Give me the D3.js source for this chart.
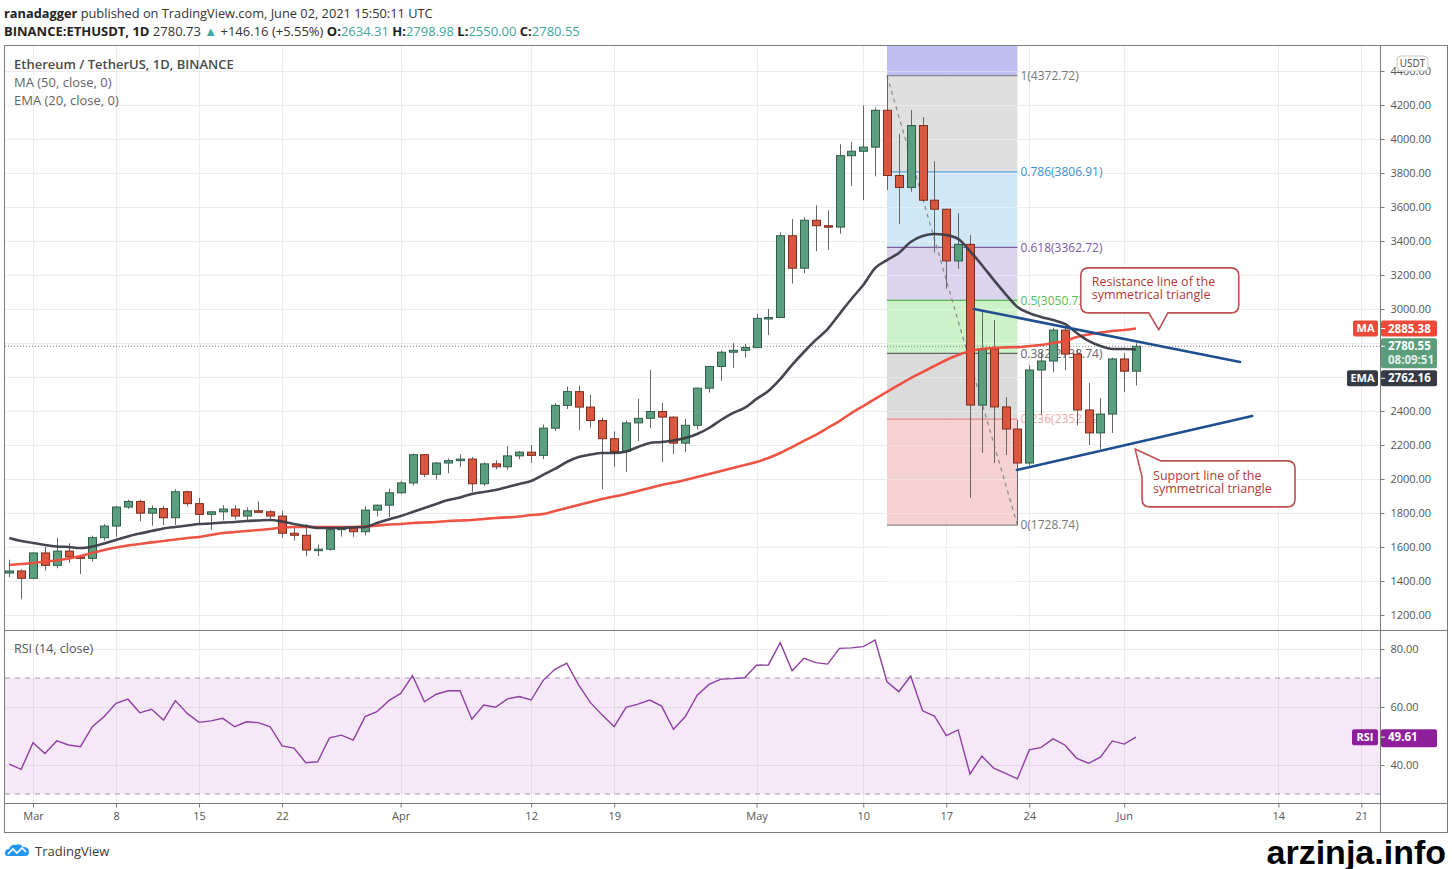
<!DOCTYPE html>
<html>
<head>
<meta charset="utf-8">
<script src="https://cdn.jsdelivr.net/npm/d3@7"></script>
<style>
  body { margin: 0; background: #fff; }
  svg { display: block; font-family: "Open Sans", "Noto Sans", sans-serif; }
</style>
</head>
<body>
<svg id="chart"></svg>
<script>
// ETH/USDT daily, Feb 27 - Jun 2 2021

const firstDay = Date.UTC(2021, 1, 27);

const openP = [1447,1459,1416,1565,1492,1576,1542,1533,1655,1723,
  1835,1868,1799,1826,1772,1925,1855,1792,1807,1823,
  1782,1813,1807,1782,1681,1669,1582,1587,1702,1714,
  1690,1817,1846,1919,1977,2143,2028,2094,2108,2117,
  1972,2089,2072,2136,2158,2139,2299,2433,2514,2423,
  2344,2237,2162,2330,2357,2397,2364,2211,2316,2534,
  2662,2746,2757,2773,2945,2950,3431,3240,3522,3490,
  3482,3902,3928,3952,4169,3785,3715,4079,3640,3587,
  3283,3380,2435,2765,2424,2294,2094,2641,2694,2876,
  2735,2406,2271,2382,2706,2634.31];

const highP = [1525,1468,1570,1600,1654,1622,1548,1667,1734,1842,
  1878,1878,1845,1840,1940,1932,1888,1810,1846,1845,
  1834,1868,1818,1812,1723,1733,1614,1707,1722,1720,
  1840,1850,1943,1987,2150,2144,2100,2120,2145,2130,
  2098,2110,2194,2165,2200,2320,2447,2544,2549,2497,
  2360,2280,2345,2471,2642,2449,2369,2353,2539,2664,
  2757,2800,2795,2972,3000,3450,3530,3540,3610,3580,
  3970,3984,4197,4186,4372.72,4030,4170,4129,3870,3587,
  3563,3435,2994,2935,2482,2347,2670,2750,2890,2890,
  2762,2565,2476,2714,2741,2798.98];

const lowP = [1424,1293,1410,1462,1475,1506,1440,1515,1637,1660,
  1824,1752,1725,1730,1730,1838,1733,1700,1757,1762,
  1755,1805,1765,1653,1638,1545,1547,1578,1661,1660,
  1668,1780,1777,1911,1962,2012,1997,2034,2071,1924,
  1960,2057,2054,2116,2094,2117,2281,2411,2288,2303,
  1941,2071,2041,2224,2300,2100,2147,2159,2292,2508,
  2578,2652,2713,2772,2847,2950,3150,3210,3340,3347,
  3443,3723,3641,3780,3700,3500,3690,3630,3333,3120,
  3236,1888,2153,2094,2141,1728.74,2080,2376,2629,2640,
  2316,2200,2176,2271,2512,2550];

const closeP = [1459,1416,1565,1492,1576,1542,1533,1655,1723,1835,
  1868,1799,1826,1772,1925,1855,1792,1807,1823,1782,
  1813,1807,1782,1681,1669,1582,1587,1702,1714,1690,
  1817,1846,1919,1977,2143,2028,2094,2108,2117,1972,
  2089,2072,2136,2158,2139,2299,2433,2514,2423,2344,
  2237,2162,2330,2357,2397,2364,2211,2316,2534,2662,
  2746,2757,2773,2945,2950,3431,3240,3522,3490,3482,
  3902,3928,3952,4169,3785,3715,4079,3640,3587,3283,
  3380,2435,2765,2424,2294,2094,2641,2694,2876,2735,
  2406,2271,2382,2706,2634.31,2780.55];

// MA(50) and EMA(20) as drawn on the chart
const ma50 = [1494,1500,1506,1515,1521,1532,1547,1565,1582,1597,
  1609,1618,1627,1635,1644,1653,1659,1671,1682,1688,
  1694,1700,1706,1715,1718,1718,1718,1718,1718,1718,
  1721,1726,1732,1735,1741,1744,1747,1753,1756,1759,
  1765,1771,1774,1779,1788,1794,1812,1829,1847,1865,
  1882,1897,1912,1929,1947,1965,1979,1994,2012,2029,
  2047,2065,2082,2100,2124,2153,2188,2224,2259,2300,
  2341,2388,2429,2471,2512,2553,2594,2629,2665,2700,
  2729,2753,2765,2771,2774,2776,2782,2788,2800,2812,
  2835,2850,2862,2871,2876,2885.38];

const ema20 = [1653,1635,1624,1612,1603,1600,1594,1603,1621,1641,
  1662,1679,1694,1709,1718,1726,1735,1738,1744,1747,
  1753,1756,1759,1750,1735,1724,1712,1712,1712,1715,
  1718,1741,1762,1782,1806,1829,1853,1876,1891,1912,
  1924,1935,1953,1971,1988,2024,2059,2100,2129,2144,
  2153,2153,2162,2188,2212,2218,2227,2241,2265,2300,
  2347,2388,2418,2471,2518,2588,2671,2747,2818,2882,
  2971,3059,3141,3241,3288,3329,3394,3429,3441,3435,
  3412,3341,3259,3171,3088,3012,2976,2953,2935,2912,
  2859,2812,2782,2765,2765,2762.16];

// RSI(14)
const rsi14 = [40.3,38.5,47.7,44.0,48.3,46.9,46.3,53.2,56.7,61.3,
  62.7,58.0,59.2,55.5,62.2,57.8,54.7,55.2,56.1,53.2,
  54.9,54.6,53.2,46.6,45.8,40.8,41.1,49.4,50.3,48.6,
  56.7,58.4,62.2,64.7,70.8,61.8,64.4,65.6,65.6,55.8,
  60.7,59.9,62.8,63.6,62.4,69.1,73.0,75.1,67.6,61.5,
  57.2,53.2,59.9,61.0,62.4,60.3,52.3,56.7,64.1,67.8,
  69.6,69.8,70.1,74.4,74.5,82.2,72.5,76.8,75.3,74.8,
  80.2,80.4,80.8,83.1,68.7,65.3,70.7,58.7,56.9,50.1,
  52.1,36.9,43.1,38.9,37.1,35.2,45.2,46.1,49.0,46.9,
  42.3,40.6,42.7,48.3,47.2,49.61];

// time axis ticks
const tickDays = ["2021-03-01","2021-03-08","2021-03-15","2021-03-22","2021-04-01","2021-04-12","2021-04-19",
  "2021-05-01","2021-05-10","2021-05-17","2021-05-24","2021-06-01","2021-06-14","2021-06-21"];
const tickLabels = ["Mar","8","15","22","Apr","12","19","May","10","17","24","Jun","14","21"];

// fib retracement (May 12 high -> May 23 low)
const fibLevels = [1, 0.786, 0.618, 0.5, 0.382, 0.236, 0];
const fibPrices = [4372.72, 3806.91, 3362.72, 3050.73, 2738.74, 2352.72, 1728.74];
const fibStart = "2021-05-12";
const fibEnd = "2021-05-23";

// symmetrical triangle drawings
const resistanceLine = [["2021-05-19T08:00", 3000], ["2021-06-10T18:30", 2688]];
const supportLine = [["2021-05-22T23:00", 2053], ["2021-06-11T19:00", 2371]];

const W = 1452, H = 869;
const left = 5, paneRight = 1380, frameRight = 1447;
const priceTop = 46, priceBottom = 630, rsiBottom = 803, axisBottom = 832;

const svg = d3.select('#chart').attr('width', W).attr('height', H);

const parse = s => new Date(s.length > 10 ? s + ':00Z' : s + 'T00:00:00Z');
const dates = closeP.map((_, i) => new Date(firstDay + i * 864e5));
const candles = dates.map((d, i) => ({ date: d, o: openP[i], h: highP[i], l: lowP[i], c: closeP[i] }));

const x = d3.scaleUtc()
  .domain([new Date(Date.UTC(2021, 1, 26, 15, 18)), new Date(Date.UTC(2021, 5, 22, 13, 41))])
  .range([left, paneRight]);
const y = d3.scaleLinear().domain([1200, 4400]).range([615, 71]);
const ry = d3.scaleLinear().domain([40, 80]).range([765, 649]);

const greenFill = '#5b9f7f', greenLine = '#2f5d49';
const redFill = '#d9573e', redLine = '#7d2c1e';
const teal = '#3fa69c';

// clip paths
const defs = svg.append('defs');
defs.append('clipPath').attr('id', 'pclip').append('rect')
  .attr('x', left).attr('y', priceTop).attr('width', paneRight - left).attr('height', priceBottom - priceTop);
defs.append('clipPath').attr('id', 'rclip').append('rect')
  .attr('x', left).attr('y', priceBottom).attr('width', paneRight - left).attr('height', rsiBottom - priceBottom);

// header
const head1 = svg.append('text').attr('x', 4).attr('y', 18).style('font-size', '12.8px').attr('fill', '#333');
head1.append('tspan').attr('font-weight', 700).attr('fill', '#222').text('ranadagger');
head1.append('tspan').text(' published on TradingView.com, June 02, 2021 15:50:11 UTC');

const head2 = svg.append('text').attr('x', 4).attr('y', 36).style('font-size', '13px').attr('fill', '#333');
head2.append('tspan').attr('font-weight', 700).attr('fill', '#222').text('BINANCE:ETHUSDT, 1D');
head2.append('tspan').text('  2780.73 ');
head2.append('tspan').attr('fill', teal).text('▲');
head2.append('tspan').text(' +146.16 (+5.55%) ');
[['O:', '2634.31'], [' H:', '2798.98'], [' L:', '2550.00'], [' C:', '2780.55']].forEach(([k, v]) => {
  head2.append('tspan').attr('font-weight', 700).attr('fill', '#222').text(k);
  head2.append('tspan').attr('fill', teal).text(v);
});

// grid
const grid = svg.append('g').attr('stroke', '#ececec').attr('stroke-width', 1);
const priceTicks = d3.range(1200, 4401, 200);
grid.selectAll('line.h').data(priceTicks).enter().append('line')
  .attr('x1', left).attr('x2', paneRight)
  .attr('y1', d => Math.round(y(d)) + 0.5).attr('y2', d => Math.round(y(d)) + 0.5);
grid.selectAll('line.r').data([40, 60, 80]).enter().append('line')
  .attr('x1', left).attr('x2', paneRight)
  .attr('y1', d => Math.round(ry(d)) + 0.5).attr('y2', d => Math.round(ry(d)) + 0.5);
grid.selectAll('line.v').data(tickDays).enter().append('line')
  .attr('x1', d => Math.round(x(parse(d))) + 0.5).attr('x2', d => Math.round(x(parse(d))) + 0.5)
  .attr('y1', priceTop).attr('y2', rsiBottom);

// fib retracement
const price = svg.append('g').attr('clip-path', 'url(#pclip)');
const fx0 = x(parse(fibStart)), fx1 = x(parse(fibEnd));
const fibFills = ['#dcdcdc', '#cbe4f5', '#d8cfea', '#c8efc2', '#d7d7d7', '#f5cccc'];
const fibLineColors = ['#8a8a8a', '#5aa3d6', '#7e5fa3', '#5ab55a', '#666666', '#e58a8a', '#8a8a8a'];
const fibTextColors = ['#777777', '#3d8fd0', '#7b5aa0', '#55c055', '#666666', '#f0a8a8', '#777777'];

price.append('rect')
  .attr('x', fx0).attr('width', fx1 - fx0)
  .attr('y', priceTop).attr('height', y(fibPrices[0]) - priceTop)
  .attr('fill', '#bfc0f1');
price.selectAll('rect.fib').data(fibFills).enter().append('rect')
  .attr('x', fx0).attr('width', fx1 - fx0)
  .attr('y', (d, i) => y(fibPrices[i]))
  .attr('height', (d, i) => y(fibPrices[i + 1]) - y(fibPrices[i]))
  .attr('fill', d => d).attr('opacity', 0.9);
// faint grid through the box
price.selectAll('line.fg').data(priceTicks).enter().append('line')
  .attr('x1', fx0).attr('x2', fx1)
  .attr('y1', d => Math.round(y(d)) + 0.5).attr('y2', d => Math.round(y(d)) + 0.5)
  .attr('stroke', '#ffffff').attr('stroke-opacity', 0.35);
price.selectAll('line.fib').data(fibPrices).enter().append('line')
  .attr('x1', fx0).attr('x2', fx1)
  .attr('y1', d => y(d)).attr('y2', d => y(d))
  .attr('stroke', (d, i) => fibLineColors[i]).attr('stroke-width', 1.2);
price.selectAll('text.fib').data(fibPrices).enter().append('text')
  .attr('x', fx1 + 3).attr('y', d => y(d)).attr('dy', '0.35em')
  .attr('fill', (d, i) => fibTextColors[i])
  .style('font-size', '12px')
  .text((d, i) => `${fibLevels[i]}(${d.toFixed(2)})`);
price.append('line')
  .attr('x1', fx0).attr('y1', y(fibPrices[0]))
  .attr('x2', fx1).attr('y2', y(fibPrices[6]))
  .attr('stroke', '#8a8a8a').attr('stroke-width', 1.2).attr('stroke-dasharray', '4,4');

// last price dotted line
price.append('line')
  .attr('x1', left).attr('x2', paneRight)
  .attr('y1', y(closeP[closeP.length - 1])).attr('y2', y(closeP[closeP.length - 1]))
  .attr('stroke', '#888').attr('stroke-dasharray', '1,2');

// candles
const bodyW = 8;
const cg = price.append('g').selectAll('g').data(candles).enter().append('g');
cg.append('line')
  .attr('x1', d => Math.round(x(d.date)) + 0.5).attr('x2', d => Math.round(x(d.date)) + 0.5)
  .attr('y1', d => y(d.h)).attr('y2', d => y(d.l))
  .attr('stroke', '#666').attr('stroke-width', 1);
cg.append('rect')
  .attr('x', d => Math.round(x(d.date)) - bodyW / 2 + 0.5)
  .attr('width', bodyW)
  .attr('y', d => y(Math.max(d.o, d.c)))
  .attr('height', d => Math.max(1.5, Math.abs(y(d.o) - y(d.c))))
  .attr('fill', d => d.c >= d.o ? greenFill : redFill)
  .attr('stroke', d => d.c >= d.o ? greenLine : redLine)
  .attr('stroke-width', 1);

// moving averages
const line = d3.line().x((d, i) => x(dates[i])).y(d => y(d)).curve(d3.curveMonotoneX);
price.append('path').datum(ma50).attr('d', line)
  .attr('fill', 'none').attr('stroke', '#ee4a3a').attr('stroke-width', 2.6).attr('stroke-opacity', 0.95);
price.append('path').datum(ema20).attr('d', line)
  .attr('fill', 'none').attr('stroke', '#3b3d47').attr('stroke-width', 2.6).attr('stroke-opacity', 0.95);

// triangle lines
[resistanceLine, supportLine].forEach(pts => {
  price.append('line')
    .attr('x1', x(parse(pts[0][0]))).attr('y1', y(pts[0][1]))
    .attr('x2', x(parse(pts[1][0]))).attr('y2', y(pts[1][1]))
    .attr('stroke', '#1f4f8e').attr('stroke-width', 2.6).attr('stroke-linecap', 'round');
});

// callouts
function callout(pathD, lines, tx, ty) {
  const g = svg.append('g');
  g.append('path').attr('d', pathD)
    .attr('fill', '#fff').attr('stroke', '#bd5050').attr('stroke-width', 1.6).attr('stroke-linejoin', 'round');
  lines.forEach((t, i) => g.append('text')
    .attr('x', tx).attr('y', ty + i * 13.5)
    .attr('fill', '#b03a3a').style('font-size', '12.5px').text(t));
}
// resistance callout: pointer at the bottom
{
  const tx = x(parse('2021-06-03T22:00')), ty = y(2877);
  const x0 = tx - 78, x1 = tx + 80, y0 = ty - 62, y1 = ty - 17, r = 8;
  const p = `M${x0 + r},${y0} H${x1 - r} Q${x1},${y0} ${x1},${y0 + r} V${y1 - r} Q${x1},${y1} ${x1 - r},${y1}
    H${tx + 9} L${tx},${ty} L${tx - 10},${y1} H${x0 + r} Q${x0},${y1} ${x0},${y1 - r} V${y0 + r} Q${x0},${y0} ${x0 + r},${y0} Z`;
  callout(p, ['Resistance line of the', 'symmetrical triangle'], x0 + 11, y0 + 18);
}
// support callout: pointer at the top-left corner
{
  const tx = x(parse('2021-06-01T22:00')), ty = y(2177);
  const x0 = tx + 7, x1 = tx + 160, y0 = ty + 12, y1 = ty + 58, r = 8;
  const p = `M${tx + 26},${y0} H${x1 - r} Q${x1},${y0} ${x1},${y0 + r} V${y1 - r} Q${x1},${y1} ${x1 - r},${y1}
    H${x0 + r} Q${x0},${y1} ${x0},${y1 - r} V${y0 + 16} L${tx},${ty} Z`;
  callout(p, ['Support line of the', 'symmetrical triangle'], x0 + 11, y0 + 19);
}

// legends
const legend = svg.append('g').style('font-size', '13px');
legend.append('text').attr('x', 14).attr('y', 69).attr('fill', '#4a4a4a').attr('font-weight', 600)
  .text('Ethereum / TetherUS, 1D, BINANCE');
legend.append('text').attr('x', 14).attr('y', 87).attr('fill', '#666').text('MA (50, close, 0)');
legend.append('text').attr('x', 14).attr('y', 105).attr('fill', '#666').text('EMA (20, close, 0)');

// RSI pane
const rsiG = svg.append('g').attr('clip-path', 'url(#rclip)');
rsiG.append('rect')
  .attr('x', left).attr('width', paneRight - left)
  .attr('y', ry(70)).attr('height', ry(30) - ry(70))
  .attr('fill', '#9c27b0').attr('fill-opacity', 0.1);
rsiG.selectAll('line.band').data([70, 30]).enter().append('line')
  .attr('x1', left).attr('x2', paneRight)
  .attr('y1', d => ry(d)).attr('y2', d => ry(d))
  .attr('stroke', '#a39cb0').attr('stroke-dasharray', '5,5');
const rsiLine = d3.line().x((d, i) => x(dates[i])).y(d => ry(d));
rsiG.append('path').datum(rsi14).attr('d', rsiLine)
  .attr('fill', 'none').attr('stroke', '#8e3fa0').attr('stroke-width', 1.4);
svg.append('text').attr('x', 14).attr('y', 653).attr('fill', '#555').style('font-size', '12.5px')
  .text('RSI (14, close)');

// frame
const frame = svg.append('g').attr('stroke', '#7a7a7a').attr('fill', 'none');
frame.append('rect').attr('x', left - 0.5).attr('y', priceTop - 0.5)
  .attr('width', frameRight - left + 1).attr('height', axisBottom - priceTop + 1);
frame.append('line').attr('x1', left).attr('x2', frameRight).attr('y1', priceBottom + 0.5).attr('y2', priceBottom + 0.5);
frame.append('line').attr('x1', left).attr('x2', frameRight).attr('y1', rsiBottom + 0.5).attr('y2', rsiBottom + 0.5);
frame.append('line').attr('x1', paneRight + 0.5).attr('x2', paneRight + 0.5).attr('y1', priceTop).attr('y2', axisBottom);

// axes
function styleAxis(g) {
  g.select('.domain').remove();
  g.selectAll('.tick line').attr('stroke', '#777');
  g.selectAll('.tick text').attr('fill', '#555').style('font-size', '11px')
    .style('font-family', '"Open Sans", sans-serif');
}
svg.append('g').attr('transform', `translate(${paneRight + 0.5},0)`)
  .call(d3.axisRight(y).tickValues(priceTicks).tickFormat(d3.format('.2f')).tickSize(4).tickPadding(6))
  .call(styleAxis);
svg.append('g').attr('transform', `translate(${paneRight + 0.5},0)`)
  .call(d3.axisRight(ry).tickValues([40, 60, 80]).tickFormat(d3.format('.2f')).tickSize(4).tickPadding(6))
  .call(styleAxis);
svg.append('g').attr('transform', `translate(0,${rsiBottom + 0.5})`)
  .call(d3.axisBottom(x).tickValues(tickDays.map(parse)).tickFormat((d, i) => tickLabels[i]).tickSize(4).tickPadding(5))
  .call(styleAxis);

// currency box
svg.append('rect').attr('x', 1397).attr('y', 56).attr('width', 31).attr('height', 15).attr('rx', 4)
  .attr('fill', '#fff').attr('stroke', '#c8c8c8');
svg.append('text').attr('x', 1412.5).attr('y', 67).attr('text-anchor', 'middle')
  .attr('fill', '#444').style('font-size', '10px').text('USDT');

// price tags on the axis
function tag(cy, h, fill, name, nameW, values) {
  const g = svg.append('g');
  if (name) {
    g.append('rect').attr('x', paneRight - 2 - nameW).attr('y', cy - 8).attr('width', nameW).attr('height', 16)
      .attr('rx', 2).attr('fill', fill);
    g.append('text').attr('x', paneRight - 2 - nameW / 2).attr('y', cy).attr('dy', '0.35em')
      .attr('text-anchor', 'middle').attr('fill', '#fff').attr('font-weight', 700)
      .style('font-size', '11px').text(name);
  }
  g.append('rect').attr('x', paneRight + 1).attr('y', cy - 8).attr('width', 56).attr('height', h)
    .attr('rx', 2).attr('fill', fill);
  g.append('line').attr('x1', paneRight + 1).attr('x2', paneRight + 5).attr('y1', cy).attr('y2', cy)
    .attr('stroke', '#fff');
  values.forEach((v, i) => g.append('text')
    .attr('x', paneRight + 8).attr('y', cy + i * 14).attr('dy', '0.35em')
    .attr('fill', '#fff').attr('font-weight', 700).attr('fill-opacity', i ? 0.85 : 1)
    .style('font-size', '11.5px').text(v));
}
tag(y(ma50[ma50.length - 1]), 16, '#ee4a3a', 'MA', 25, [ma50[ma50.length - 1].toFixed(2)]);
tag(y(closeP[closeP.length - 1]), 30, '#5a9e7c', null, 0, [closeP[closeP.length - 1].toFixed(2), '08:09:51']);
tag(y(closeP[closeP.length - 1]) + 32, 16, '#363a45', 'EMA', 31, [ema20[ema20.length - 1].toFixed(2)]);
tag(ry(rsi14[rsi14.length - 1]), 18, '#8e1f9c', 'RSI', 26, [rsi14[rsi14.length - 1].toFixed(2)]);

// TradingView logo
const logo = svg.append('g').attr('transform', 'translate(5,843)');
logo.append('path')
  .attr('d', 'M2,13 Q0,13 0,10 Q0,6 4,6 Q6,1 11,2 Q15,0 18,4 Q24,4 24,9 Q24,13 20,13 Z')
  .attr('fill', '#2196f3');
logo.append('path').attr('d', 'M3,11 L8,6 L12,10 L17,5 L21,9')
  .attr('fill', 'none').attr('stroke', '#fff').attr('stroke-width', 1.6);
svg.append('text').attr('x', 35).attr('y', 856).attr('fill', '#3a3a3a')
  .style('font-size', '13px').text('TradingView');

// watermark
svg.append('text').attr('x', 1446).attr('y', 864).attr('text-anchor', 'end')
  .attr('fill', '#000').attr('font-weight', 700)
  .style('font-family', '"Liberation Sans", Arial, sans-serif').style('font-size', '34px')
  .text('arzinja.info');
</script>
</body>
</html>
